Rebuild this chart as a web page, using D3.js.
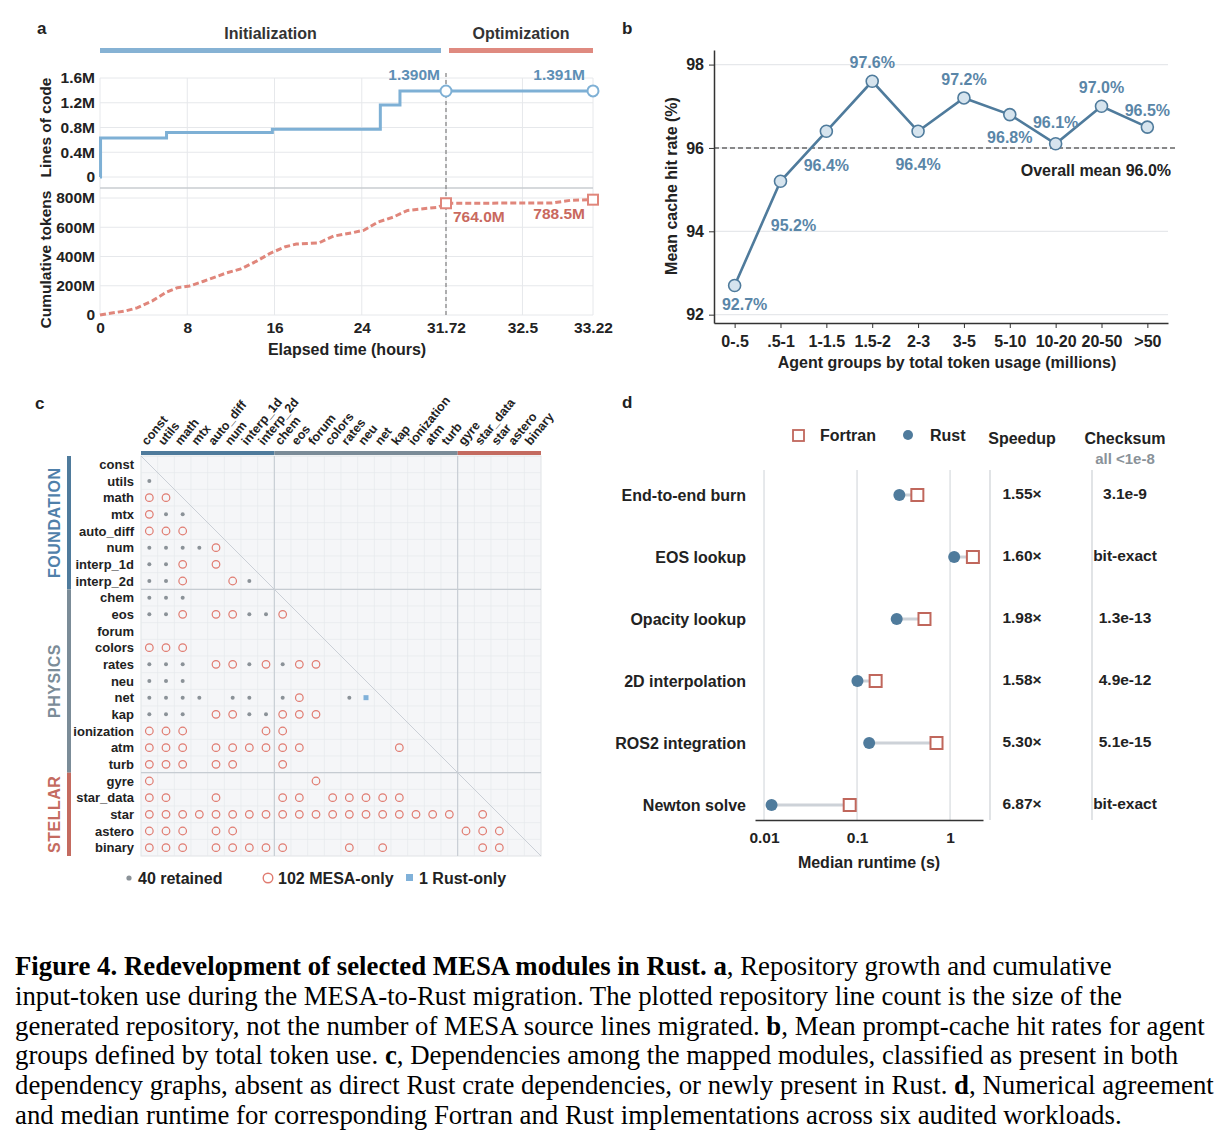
<!DOCTYPE html>
<html>
<head>
<meta charset="utf-8">
<script src="https://cdn.jsdelivr.net/npm/d3@7"></script>
<style>
body { margin: 0; background: #fff; }
svg text { font-family: "Liberation Sans", Arial, sans-serif; }
</style>
</head>
<body>
<script>
// ---- data: panel a
var phases = ["Initialization", "Optimization"];
var hourTicks = [0, 8, 16, 24, 31.72, 32.5, 33.22];
var locHours = [0, 0.05, 6.1, 15.8, 25.7, 27.5, 31.72, 33.22];
var locMillions = [0, 0.63, 0.72, 0.77, 1.165, 1.39, 1.39, 1.391];
var tokenHours = [0, 2.4, 3.4, 4.8, 6.1, 7.1, 8.2, 9.5, 11.6, 12.9, 14.3, 15.6, 17.0, 18.0, 20.1, 21.4, 23.1, 24.2, 25.5, 26.9, 28.2, 29.3, 31.0, 31.72, 32.8, 33.0, 33.22];
var tokenMillions = [0, 29, 49, 97, 157, 187, 198, 231, 288, 315, 366, 422, 467, 485, 494, 539, 562, 580, 636, 670, 715, 724, 737, 764, 766, 785, 788.5];
var locTicks = [0, 0.4, 0.8, 1.2, 1.6];
var tokenTicks = [0, 200, 400, 600, 800];

// ---- data: panel b
var tokenGroups = ["0-.5", ".5-1", "1-1.5", "1.5-2", "2-3", "3-5", "5-10", "10-20", "20-50", ">50"];
var hitRates = [92.7, 95.2, 96.4, 97.6, 96.4, 97.2, 96.8, 96.1, 97.0, 96.5];
var overallMean = 96.0;
var hitTicks = [92, 94, 96, 98];

// ---- data: panel c
var foundation = ["const", "utils", "math", "mtx", "auto_diff", "num", "interp_1d", "interp_2d"];
var physics = ["chem", "eos", "forum", "colors", "rates", "neu", "net", "kap", "ionization", "atm", "turb"];
var stellar = ["gyre", "star_data", "star", "astero", "binary"];
var retainedDeps = [
  ["utils", ["const"]],
  ["mtx", ["utils", "math"]],
  ["num", ["const", "utils", "math", "mtx"]],
  ["interp_1d", ["const", "utils"]],
  ["interp_2d", ["const", "utils", "interp_1d"]],
  ["chem", ["const", "utils", "math"]],
  ["eos", ["const", "utils", "interp_1d", "interp_2d"]],
  ["rates", ["const", "utils", "math", "interp_1d", "chem"]],
  ["neu", ["const", "utils", "math"]],
  ["net", ["const", "utils", "math", "mtx", "num", "interp_1d", "chem", "rates"]],
  ["kap", ["const", "utils", "math", "interp_1d", "interp_2d"]]
];
var mesaOnlyDeps = [
  ["math", ["const", "utils"]],
  ["mtx", ["const"]],
  ["auto_diff", ["const", "utils", "math"]],
  ["num", ["auto_diff"]],
  ["interp_1d", ["math", "auto_diff"]],
  ["interp_2d", ["math", "num"]],
  ["eos", ["math", "auto_diff", "num", "chem"]],
  ["colors", ["const", "utils", "math"]],
  ["rates", ["auto_diff", "num", "interp_2d", "eos", "forum"]],
  ["net", ["eos"]],
  ["kap", ["auto_diff", "num", "chem", "eos", "forum"]],
  ["ionization", ["const", "utils", "math", "interp_2d", "chem"]],
  ["atm", ["const", "utils", "math", "auto_diff", "num", "interp_1d", "interp_2d", "chem", "eos", "kap"]],
  ["turb", ["const", "utils", "math", "auto_diff", "num", "chem"]],
  ["gyre", ["const", "forum"]],
  ["star_data", ["const", "utils", "auto_diff", "chem", "eos", "colors", "rates", "neu", "net", "kap"]],
  ["star", ["const", "utils", "math", "mtx", "auto_diff", "num", "interp_1d", "interp_2d", "chem", "eos", "forum", "colors", "rates", "neu", "net", "kap", "ionization", "atm", "turb", "star_data"]],
  ["astero", ["const", "utils", "math", "auto_diff", "num", "gyre", "star_data", "star"]],
  ["binary", ["const", "utils", "math", "auto_diff", "num", "interp_1d", "interp_2d", "chem", "rates", "net", "star_data", "star"]]
];
var rustOnlyDeps = [
  ["net", ["neu"]]
];

// ---- data: panel d
var workloads = ["End-to-end burn", "EOS lookup", "Opacity lookup", "2D interpolation", "ROS2 integration", "Newton solve"];
var fortranSec = [0.445, 1.76, 0.531, 0.1585, 0.715, 0.0834];
var rustSec = [0.285, 1.107, 0.267, 0.101, 0.135, 0.01205];
var speedups = ["1.55×", "1.60×", "1.98×", "1.58×", "5.30×", "6.87×"];
var checksums = ["3.1e-9", "bit-exact", "1.3e-13", "4.9e-12", "5.1e-15", "bit-exact"];
var runtimeTicks = [0.01, 0.1, 1];

var captionLines = [
  "**Figure 4. Redevelopment of selected MESA modules in Rust. a**, Repository growth and cumulative",
  "input-token use during the MESA-to-Rust migration. The plotted repository line count is the size of the",
  "generated repository, not the number of MESA source lines migrated. **b**, Mean prompt-cache hit rates for agent",
  "groups defined by total token use. **c**, Dependencies among the mapped modules, classified as present in both",
  "dependency graphs, absent as direct Rust crate dependencies, or newly present in Rust. **d**, Numerical agreement",
  "and median runtime for corresponding Fortran and Rust implementations across six audited workloads."
];

var ink = "#222";
var gridCol = "#e6e8eb";
var steel = "#4f7b9c";
var fs = 16;

var svg = d3.select("body").append("svg")
  .attr("width", 1218)
  .attr("height", 1146);
svg.append("rect").attr("width", 1218).attr("height", 1146).attr("fill", "#fff");

function panelLabel(t, x, y) {
  svg.append("text").attr("x", x).attr("y", y).text(t)
    .attr("font-size", 17).attr("font-weight", "bold").attr("fill", ink);
}

function styleAxis(g, size) {
  g.attr("font-size", size).attr("font-family", null);
  g.selectAll("text").attr("font-size", size).attr("font-weight", "bold").attr("fill", ink);
  g.selectAll("line").attr("stroke", "#333");
  g.select(".domain").attr("stroke", "#333").attr("stroke-width", 1.5);
}

function label(g, x, y, txt, size, anchor, col) {
  return g.append("text").attr("x", x).attr("y", y).attr("text-anchor", anchor || "start")
    .attr("font-size", size).attr("font-weight", "bold").attr("fill", col || ink).text(txt);
}

// ================= panel a =================
panelLabel("a", 37, 34);
var xa = d3.scaleLinear().domain([0, 31.72, 33.22]).range([100, 446, 593]);
var ya = d3.scaleLinear().domain([0, 1.6]).range([177, 78]);
var yt = d3.scaleLinear().domain([0, 800]).range([315, 198]);
var gA = svg.append("g");

// phase bars
var phaseSpans = [[xa(0), xa(31.72) - 5], [xa(31.72) + 3, xa(33.22)]];
var phaseCols = ["#86b2d4", "#df8a80"];
phases.forEach(function(p, i) {
  gA.append("rect").attr("x", phaseSpans[i][0]).attr("y", 48)
    .attr("width", phaseSpans[i][1] - phaseSpans[i][0]).attr("height", 5)
    .attr("fill", phaseCols[i]);
  label(gA, (phaseSpans[i][0] + phaseSpans[i][1]) / 2, 39, p, fs, "middle", "#333");
});

// grid
locTicks.forEach(function(v) {
  gA.append("line").attr("x1", xa(0)).attr("x2", xa(33.22)).attr("y1", ya(v)).attr("y2", ya(v))
    .attr("stroke", gridCol);
});
tokenTicks.forEach(function(v) {
  gA.append("line").attr("x1", xa(0)).attr("x2", xa(33.22)).attr("y1", yt(v)).attr("y2", yt(v))
    .attr("stroke", gridCol);
});
hourTicks.forEach(function(h) {
  gA.append("line").attr("x1", xa(h)).attr("x2", xa(h)).attr("y1", ya(1.6)).attr("y2", yt(0))
    .attr("stroke", gridCol);
});
gA.append("line").attr("x1", xa(0)).attr("x2", xa(33.22)).attr("y1", 188).attr("y2", 188)
  .attr("stroke", "#c9ccd0").attr("stroke-width", 1.5);

gA.append("line").attr("x1", xa(31.72)).attr("x2", xa(31.72)).attr("y1", 73).attr("y2", yt(0))
  .attr("stroke", "#888").attr("stroke-width", 1.3).attr("stroke-dasharray", "4,3");

// axes
var axLoc = gA.append("g").attr("transform", "translate(" + (xa(0) - 2) + ",0)")
  .call(d3.axisLeft(ya).tickValues(locTicks).tickSize(0).tickPadding(3)
    .tickFormat(function(d) { return d === 0 ? "0" : d3.format(".1f")(d) + "M"; }));
axLoc.select(".domain").remove();
styleAxis(axLoc, 15.5);
var axTok = gA.append("g").attr("transform", "translate(" + (xa(0) - 2) + ",0)")
  .call(d3.axisLeft(yt).tickValues(tokenTicks).tickSize(0).tickPadding(3)
    .tickFormat(function(d) { return d === 0 ? "0" : d + "M"; }));
axTok.select(".domain").remove();
styleAxis(axTok, 15.5);
var axHours = gA.append("g").attr("transform", "translate(0," + yt(0) + ")")
  .call(d3.axisBottom(xa).tickValues(hourTicks).tickSize(0).tickPadding(7)
    .tickFormat(function(d) { return String(d); }));
axHours.select(".domain").remove();
styleAxis(axHours, 15.5);

gA.append("text").attr("transform", "translate(51," + (ya(0.8)) + ") rotate(-90)")
  .attr("text-anchor", "middle").attr("font-size", 15.5).attr("font-weight", "bold").attr("fill", ink)
  .text("Lines of code");
gA.append("text").attr("transform", "translate(51," + (yt(400) + 3) + ") rotate(-90)")
  .attr("text-anchor", "middle").attr("font-size", 15.5).attr("font-weight", "bold").attr("fill", ink)
  .text("Cumulative tokens");
label(gA, 347, 355, "Elapsed time (hours)", fs, "middle");

// lines
var locPts = locHours.map(function(h, i) { return [h, locMillions[i]]; });
var tokPts = tokenHours.map(function(h, i) { return [h, tokenMillions[i]]; });
gA.append("path").datum(locPts)
  .attr("d", d3.line().x(function(d) { return xa(d[0]); }).y(function(d) { return ya(d[1]); })
    .curve(d3.curveStepAfter))
  .attr("fill", "none").attr("stroke", "#7eb0d5").attr("stroke-width", 3);
gA.append("path").datum(tokPts)
  .attr("d", d3.line().x(function(d) { return xa(d[0]); }).y(function(d) { return yt(d[1]); }))
  .attr("fill", "none").attr("stroke", "#e0867b").attr("stroke-width", 3)
  .attr("stroke-dasharray", "6,3");

[6, 7].forEach(function(i) {
  gA.append("circle").attr("cx", xa(locHours[i])).attr("cy", ya(locMillions[i])).attr("r", 5.5)
    .attr("fill", "#fff").attr("stroke", "#7eb0d5").attr("stroke-width", 2);
});
[23, 26].forEach(function(i) {
  gA.append("rect").attr("x", xa(tokenHours[i]) - 5).attr("y", yt(tokenMillions[i]) - 5)
    .attr("width", 10).attr("height", 10)
    .attr("fill", "#fff").attr("stroke", "#e0867b").attr("stroke-width", 2);
});
label(gA, xa(31.72) - 6, ya(1.39) - 11, "1.390M", 15.5, "end", "#5d8fb5");
label(gA, xa(33.22) - 8, ya(1.391) - 11, "1.391M", 15.5, "end", "#5d8fb5");
label(gA, xa(31.72) + 7, yt(764) + 19, "764.0M", 15.5, "start", "#c9695e");
label(gA, xa(33.22) - 8, yt(788.5) + 19, "788.5M", 15.5, "end", "#c9695e");

// ================= panel b =================
panelLabel("b", 622, 34);
var xb = d3.scalePoint().domain(tokenGroups).range([714, 1168]).padding(0.45);
var yb = d3.scaleLinear().domain([91.8, 98.35]).range([323, 50]);
var gB = svg.append("g");
hitTicks.forEach(function(v) {
  gB.append("line").attr("x1", 714).attr("x2", 1168).attr("y1", yb(v)).attr("y2", yb(v))
    .attr("stroke", gridCol).attr("stroke-width", 1.2);
});
gB.append("line").attr("x1", 714).attr("x2", 1178).attr("y1", yb(overallMean)).attr("y2", yb(overallMean))
  .attr("stroke", "#666").attr("stroke-width", 1.6).attr("stroke-dasharray", "5,3");
label(gB, 1171, yb(overallMean) + 28, "Overall mean 96.0%", fs, "end");

var axB = gB.append("g").attr("transform", "translate(714,0)")
  .call(d3.axisLeft(yb).tickValues(hitTicks).tickSize(5).tickSizeOuter(0).tickPadding(5)
    .tickFormat(d3.format("d")));
styleAxis(axB, fs);
var axBx = gB.append("g").attr("transform", "translate(0,323)")
  .call(d3.axisBottom(xb).tickSize(5).tickSizeOuter(0).tickPadding(8));
styleAxis(axBx, fs);
gB.append("text").attr("transform", "translate(677,186) rotate(-90)").attr("text-anchor", "middle")
  .attr("font-size", fs).attr("font-weight", "bold").attr("fill", ink).text("Mean cache hit rate (%)");
label(gB, 947, 368, "Agent groups by total token usage (millions)", fs, "middle");

gB.append("path").datum(hitRates)
  .attr("d", d3.line().x(function(d, i) { return xb(tokenGroups[i]); }).y(function(d) { return yb(d); }))
  .attr("fill", "none").attr("stroke", steel).attr("stroke-width", 2.6);
gB.selectAll("circle.hit").data(hitRates).enter().append("circle")
  .attr("cx", function(d, i) { return xb(tokenGroups[i]); })
  .attr("cy", function(d) { return yb(d); })
  .attr("r", 6).attr("fill", "#d6e4ee").attr("stroke", steel).attr("stroke-width", 1.6);
// label offsets (dx, baseline dy) relative to each point
var hitLabelOff = [[10, 25], [13, 50], [0, 40], [0, -13], [0, 39], [0, -13], [0, 28], [0, -16], [0, -13], [0, -11]];
gB.selectAll("text.hitlab").data(hitRates).enter().append("text")
  .attr("x", function(d, i) { return xb(tokenGroups[i]) + hitLabelOff[i][0]; })
  .attr("y", function(d, i) { return yb(d) + hitLabelOff[i][1]; })
  .attr("text-anchor", "middle").attr("font-size", fs).attr("font-weight", "bold")
  .attr("fill", "#5a86a8").text(function(d) { return d.toFixed(1) + "%"; });

// ================= panel c =================
panelLabel("c", 35, 409);
var modules = foundation.concat(physics, stellar);
var xc = d3.scaleBand().domain(modules).range([141, 541]);
var yc = d3.scaleBand().domain(modules).range([456, 856]);
var cs = xc.bandwidth();
var gC = svg.append("g");
gC.append("rect").attr("x", 141).attr("y", 456).attr("width", 400).attr("height", 400)
  .attr("fill", "#f5f6f8").attr("stroke", "#e0e3e6");
modules.forEach(function(m, i) {
  if (i === 0) return;
  gC.append("line").attr("x1", xc(m)).attr("x2", xc(m)).attr("y1", 456).attr("y2", 856)
    .attr("stroke", "#e6e9ec").attr("stroke-width", 0.7);
  gC.append("line").attr("x1", 141).attr("x2", 541).attr("y1", yc(m)).attr("y2", yc(m))
    .attr("stroke", "#e6e9ec").attr("stroke-width", 0.7);
});
["chem", "gyre"].forEach(function(m) {
  gC.append("line").attr("x1", xc(m)).attr("x2", xc(m)).attr("y1", 456).attr("y2", 856)
    .attr("stroke", "#c6ccd2").attr("stroke-width", 1.1);
  gC.append("line").attr("x1", 141).attr("x2", 541).attr("y1", yc(m)).attr("y2", yc(m))
    .attr("stroke", "#c6ccd2").attr("stroke-width", 1.1);
});
gC.append("line").attr("x1", 141).attr("y1", 456).attr("x2", 541).attr("y2", 856)
  .attr("stroke", "#c6ccd2").attr("stroke-width", 0.9);

var groupDefs = [
  { name: "FOUNDATION", mods: foundation, col: steel, txt: "#4f80aa" },
  { name: "PHYSICS", mods: physics, col: "#7b8c98", txt: "#7b8c98" },
  { name: "STELLAR", mods: stellar, col: "#c46b60", txt: "#c46b60" }
];
groupDefs.forEach(function(g) {
  var a = xc(g.mods[0]), b = xc(g.mods[g.mods.length - 1]) + cs;
  gC.append("rect").attr("x", a).attr("y", 451).attr("width", b - a).attr("height", 4).attr("fill", g.col);
  var ya0 = yc(g.mods[0]), yb0 = yc(g.mods[g.mods.length - 1]) + cs;
  gC.append("rect").attr("x", 67).attr("y", ya0).attr("width", 4).attr("height", yb0 - ya0).attr("fill", g.col);
  gC.append("text").attr("transform", "translate(60," + ((ya0 + yb0) / 2) + ") rotate(-90)")
    .attr("text-anchor", "middle").attr("font-size", 16).attr("fill", g.txt)
    .attr("font-weight", "bold").attr("letter-spacing", 0.5).text(g.name);
});

modules.forEach(function(m) {
  label(gC, 134, yc(m) + cs / 2 + 4.5, m, 13, "end");
  gC.append("text").attr("transform", "translate(" + (xc(m) + cs / 2 - 2) + ",446) rotate(-51)")
    .attr("text-anchor", "start").attr("font-size", 12.5).attr("font-weight", "bold").attr("fill", ink).text(m);
});

function flatten(list) {
  var out = [];
  list.forEach(function(r) { r[1].forEach(function(c) { out.push([r[0], c]); }); });
  return out;
}
gC.selectAll("circle.ret").data(flatten(retainedDeps)).enter().append("circle")
  .attr("cx", function(d) { return xc(d[1]) + cs / 2; })
  .attr("cy", function(d) { return yc(d[0]) + cs / 2; })
  .attr("r", 2).attr("fill", "#8b9298");
gC.selectAll("circle.mesa").data(flatten(mesaOnlyDeps)).enter().append("circle")
  .attr("cx", function(d) { return xc(d[1]) + cs / 2; })
  .attr("cy", function(d) { return yc(d[0]) + cs / 2; })
  .attr("r", 3.8).attr("fill", "none").attr("stroke", "#e07b70").attr("stroke-width", 1.2);
gC.selectAll("rect.rust").data(flatten(rustOnlyDeps)).enter().append("rect")
  .attr("x", function(d) { return xc(d[1]) + cs / 2 - 2.5; })
  .attr("y", function(d) { return yc(d[0]) + cs / 2 - 2.5; })
  .attr("width", 5).attr("height", 5).attr("fill", "#80b1d9");

// legend c
var nRet = flatten(retainedDeps).length, nMesa = flatten(mesaOnlyDeps).length, nRust = flatten(rustOnlyDeps).length;
gC.append("circle").attr("cx", 129).attr("cy", 878).attr("r", 2.6).attr("fill", "#8b9298");
label(gC, 138, 884, nRet + " retained", fs);
gC.append("circle").attr("cx", 268).attr("cy", 878).attr("r", 4.8).attr("fill", "none")
  .attr("stroke", "#e07b70").attr("stroke-width", 1.4);
label(gC, 278, 884, nMesa + " MESA-only", fs);
gC.append("rect").attr("x", 406).attr("y", 874).attr("width", 7).attr("height", 7).attr("fill", "#80b1d9");
label(gC, 419, 884, nRust + " Rust-only", fs);

// ================= panel d =================
panelLabel("d", 622, 408);
var xd = d3.scaleLog().domain([0.008, 2.26]).range([755, 983]);
var yd = d3.scaleBand().domain(workloads).range([464, 836]);
var bh = yd.bandwidth();
var gD = svg.append("g");
runtimeTicks.forEach(function(t) {
  gD.append("line").attr("x1", xd(t)).attr("x2", xd(t)).attr("y1", 470).attr("y2", 820)
    .attr("stroke", "#d3d7db").attr("stroke-width", 1.1);
});
[990, 1092].forEach(function(x) {
  gD.append("line").attr("x1", x).attr("x2", x).attr("y1", 470).attr("y2", 820)
    .attr("stroke", "#c9cdd2").attr("stroke-width", 1.1);
});
var axD = gD.append("g").attr("transform", "translate(0,820)")
  .call(d3.axisBottom(xd).tickValues(runtimeTicks).tickSize(0).tickSizeOuter(0).tickPadding(12)
    .tickFormat(function(d) { return String(d); }));
styleAxis(axD, 15.5);
label(gD, 869, 868, "Median runtime (s)", fs, "middle");

workloads.forEach(function(w, i) {
  var cy = yd(w) + bh / 2;
  gD.append("line").attr("x1", xd(rustSec[i])).attr("x2", xd(fortranSec[i])).attr("y1", cy).attr("y2", cy)
    .attr("stroke", "#cdd2d8").attr("stroke-width", 3);
  gD.append("circle").attr("cx", xd(rustSec[i])).attr("cy", cy).attr("r", 6).attr("fill", steel);
  gD.append("rect").attr("x", xd(fortranSec[i]) - 6).attr("y", cy - 6).attr("width", 12).attr("height", 12)
    .attr("fill", "#fff").attr("stroke", "#c0675c").attr("stroke-width", 2);
  label(gD, 746, cy + 5.5, w, fs, "end");
  label(gD, 1022, cy + 4, speedups[i], 15.5, "middle");
  label(gD, 1125, cy + 4, checksums[i], 15.5, "middle");
});
gD.append("rect").attr("x", 793).attr("y", 430).attr("width", 11).attr("height", 11)
  .attr("fill", "#fff").attr("stroke", "#c0675c").attr("stroke-width", 1.8);
label(gD, 820, 441, "Fortran", fs);
gD.append("circle").attr("cx", 908).attr("cy", 435).attr("r", 5).attr("fill", steel);
label(gD, 930, 441, "Rust", fs);
label(gD, 1022, 444, "Speedup", fs, "middle");
label(gD, 1125, 444, "Checksum", fs, "middle");
label(gD, 1125, 464, "all <1e-8", 15, "middle", "#8a9299");

// ================= caption =================
captionLines.forEach(function(line, i) {
  var t = svg.append("text").attr("x", 15).attr("y", 975 + i * 29.8)
    .style("font-family", "'Liberation Serif', 'Times New Roman', serif")
    .attr("font-size", 26.8).attr("fill", "#000");
  line.split("**").forEach(function(seg, k) {
    if (!seg) return;
    t.append("tspan").attr("font-weight", k % 2 ? "bold" : "normal").text(seg);
  });
});
</script>
</body>
</html>
